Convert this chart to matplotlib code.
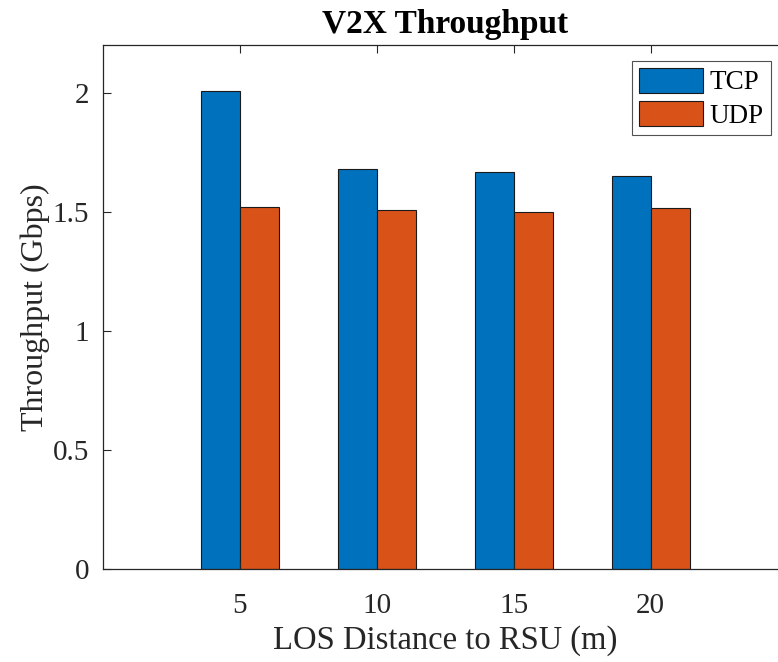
import numpy as np
import matplotlib.pyplot as plt

# Datos
distancias = [5, 10, 15, 20]
tcp = [2.008, 1.680, 1.666, 1.651]
udp = [1.518, 1.508, 1.500, 1.517]
yticks = [0, 0.5, 1, 1.5, 2]
ytick_labels = ['0', '0.5', '1', '1.5', '2']

plt.rcParams['font.family'] = ['Liberation Serif', 'DejaVu Serif']

fig = plt.figure(figsize=(7.78, 6.62), dpi=100)
ax = fig.add_axes([0.1324, 0.1405, 0.88, 0.7915])

x = np.array(distancias)
w = 1.42
ax.bar(x - w / 2, tcp, w, color='#0072BD', edgecolor='#1a1a1a', linewidth=0.8, label='TCP')
ax.bar(x + w / 2, udp, w, color='#D95319', edgecolor='#1a1a1a', linewidth=0.8, label='UDP')

ax.set_xlim(0, 25)
ax.set_ylim(0, 2.2)
ax.set_xticks(distancias)
ax.set_yticks(yticks)
ax.set_yticklabels(ytick_labels)
ax.tick_params(direction='in', top=True, right=True, labelsize=21, colors='#262626',
               labelcolor='#262626', length=6, width=0.8)
ax.tick_params(axis='x', pad=17)
ax.tick_params(axis='y', pad=10)
for s in ax.spines.values():
    s.set_color('#262626')
    s.set_linewidth(0.9)

ax.set_xlabel('LOS Distance to RSU (m)', fontsize=23.5, color='#262626', labelpad=5)
ax.set_ylabel('Throughput (Gbps)', fontsize=23, color='#262626', labelpad=2)
ax.set_title('V2X Throughput', fontsize=24, fontweight='bold', pad=9)

leg = ax.legend(loc='upper right', bbox_to_anchor=(0.975, 0.97), fontsize=19.5,
                fancybox=False, edgecolor='#262626', handlelength=2.35, handleheight=1.05,
                handletextpad=0.25, borderpad=0.25, labelspacing=0.2, borderaxespad=0)
leg.get_frame().set_linewidth(0.8)

fig.savefig('out.png', dpi=100)
